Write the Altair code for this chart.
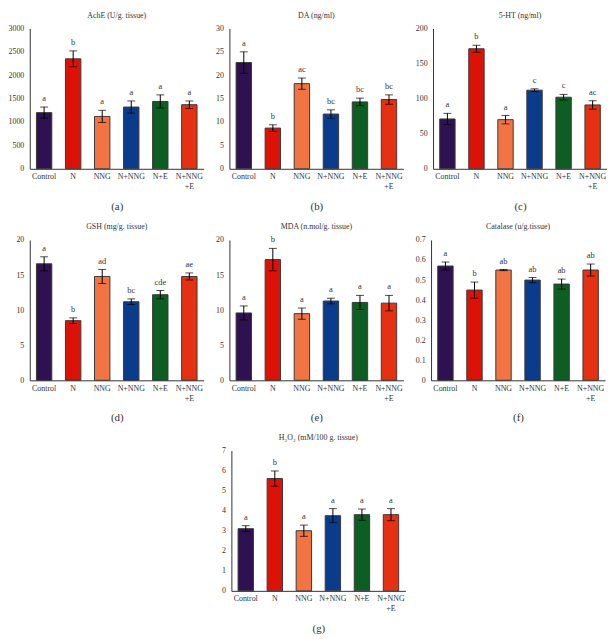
import altair as alt
import pandas as pd

CATEGORIES = ["Control", "N", "NNG", "N+NNG", "N+E", "N+NNG+E"]
COLORS = ["#2e1150", "#dc1208", "#f27442", "#0b3c8c", "#0c5e22", "#e53012"]

ACHE_MEAN = [1200, 2350, 1120, 1320, 1440, 1370]
ACHE_ERR = [120, 170, 130, 130, 140, 80]
ACHE_LET = ["a", "b", "a", "a", "a", "a"]

DA_MEAN = [22.7, 8.7, 18.2, 11.7, 14.3, 14.8]
DA_ERR = [2.3, 0.7, 1.2, 0.9, 0.8, 1.0]
DA_LET = ["a", "b", "ac", "bc", "bc", "bc"]

HT_MEAN = [71, 171, 70, 112, 102, 91]
HT_ERR = [8, 5, 6, 2, 4, 6]
HT_LET = ["a", "b", "a", "c", "c", "ac"]

GSH_MEAN = [16.6, 8.5, 14.8, 11.2, 12.2, 14.8]
GSH_ERR = [1.0, 0.4, 1.0, 0.4, 0.6, 0.5]
GSH_LET = ["a", "b", "ad", "bc", "cde", "ae"]

MDA_MEAN = [9.6, 17.2, 9.5, 11.3, 11.1, 11.0]
MDA_ERR = [1.0, 1.6, 0.8, 0.4, 1.0, 1.1]
MDA_LET = ["a", "b", "a", "a", "a", "a"]

CAT_MEAN = [0.57, 0.45, 0.55, 0.50, 0.48, 0.55]
CAT_ERR = [0.02, 0.04, 0.003, 0.013, 0.025, 0.03]
CAT_LET = ["a", "b", "ab", "ab", "ab", "ab"]

H2O2_MEAN = [3.1, 5.6, 3.0, 3.75, 3.8, 3.8]
H2O2_ERR = [0.15, 0.38, 0.28, 0.35, 0.28, 0.3]
H2O2_LET = ["a", "b", "a", "a", "a", "a"]

FONT = "Liberation Serif"
W = 176
H = 142


def panel(title, means, errs, letters, ymax, ystep, caption, fmt):
    df = pd.DataFrame({"cat": CATEGORIES, "mean": means, "err": errs, "letter": letters})
    df["lo"] = df["mean"] - df["err"]
    df["hi"] = df["mean"] + df["err"]
    n = int(round(ymax / ystep))
    vals = [round(i * ystep, 6) for i in range(n + 1)]
    xscale = alt.Scale(domain=CATEGORIES, paddingInner=0.47, paddingOuter=0.23)
    yscale = alt.Scale(domain=[0, ymax], nice=False, zero=True)
    xaxis = alt.Axis(
        title=caption, labelAngle=0, ticks=False, labelPadding=4,
        labelExpr="datum.value == 'N+NNG+E' ? ['N+NNG', '+E'] : datum.value",
        titlePadding=10,
    )
    yaxis = alt.Axis(values=vals, title=None, format=fmt, grid=False, ticks=False, labelPadding=6)
    x = alt.X("cat:N", sort=CATEGORIES, scale=xscale, axis=xaxis)

    def y(field):
        return alt.Y(field, scale=yscale, axis=yaxis)

    base = alt.Chart(df)
    bars = base.mark_bar(stroke="#3a3a3a", strokeWidth=1).encode(
        x=x, y=y("mean:Q"),
        color=alt.Color("cat:N", scale=alt.Scale(domain=CATEGORIES, range=COLORS), legend=None),
    )
    rules = base.mark_rule(color="black", strokeWidth=1).encode(x=x, y=y("lo:Q"), y2="hi:Q")
    cap_lo = base.mark_tick(color="black", size=8, thickness=1).encode(x=x, y=y("lo:Q"))
    cap_hi = base.mark_tick(color="black", size=8, thickness=1).encode(x=x, y=y("hi:Q"))
    text = base.mark_text(baseline="bottom", dy=-4, font=FONT, fontSize=8.5, fill="#333", color="#333").encode(
        x=x, y=y("hi:Q"), text="letter:N"
    )
    return alt.layer(bars, rules, cap_lo, cap_hi, text).properties(
        width=W, height=H,
        title=alt.TitleParams(title, fontSize=8, font=FONT, fontWeight="normal", color="#333", offset=5),
    )


pa = panel("AchE (U/g. tissue)", ACHE_MEAN, ACHE_ERR, ACHE_LET, 3000, 500, "(a)", "d")
pb = panel("DA (ng/ml)", DA_MEAN, DA_ERR, DA_LET, 30, 5, "(b)", "d")
pc = panel("5-HT (ng/ml)", HT_MEAN, HT_ERR, HT_LET, 200, 50, "(c)", "d")
pd_ = panel("GSH (mg/g. tissue)", GSH_MEAN, GSH_ERR, GSH_LET, 20, 5, "(d)", "d")
pe = panel("MDA (n.mol/g. tissue)", MDA_MEAN, MDA_ERR, MDA_LET, 20, 5, "(e)", "d")
pf = panel("Catalase (u/g.tissue)", CAT_MEAN, CAT_ERR, CAT_LET, 0.7, 0.1, "(f)", ".1~f")
pg = panel("H\u2082O\u2082 (mM/100 g. tissue)", H2O2_MEAN, H2O2_ERR, H2O2_LET, 7, 1, "(g)", "d")

spacer = alt.Chart(pd.DataFrame({"v": [0]})).mark_point(opacity=0).properties(width=182, height=H)

row1 = alt.hconcat(pa, pb, pc, spacing=12)
row2 = alt.hconcat(pd_, pe, pf, spacing=12)
row3 = alt.hconcat(spacer, pg, spacing=12)

chart = alt.vconcat(row1, row2, row3, spacing=11).properties(
    padding=0, background="white"
).configure_view(strokeWidth=0).configure_axis(
    labelFont=FONT, labelFontSize=8, labelColor="#333",
    titleFont=FONT, titleFontSize=11, titleFontWeight="normal", titleColor="#333",
    domainColor="#333", domainWidth=1,
)

chart.save("out.html", embed_options={"renderer": "svg", "actions": False})
